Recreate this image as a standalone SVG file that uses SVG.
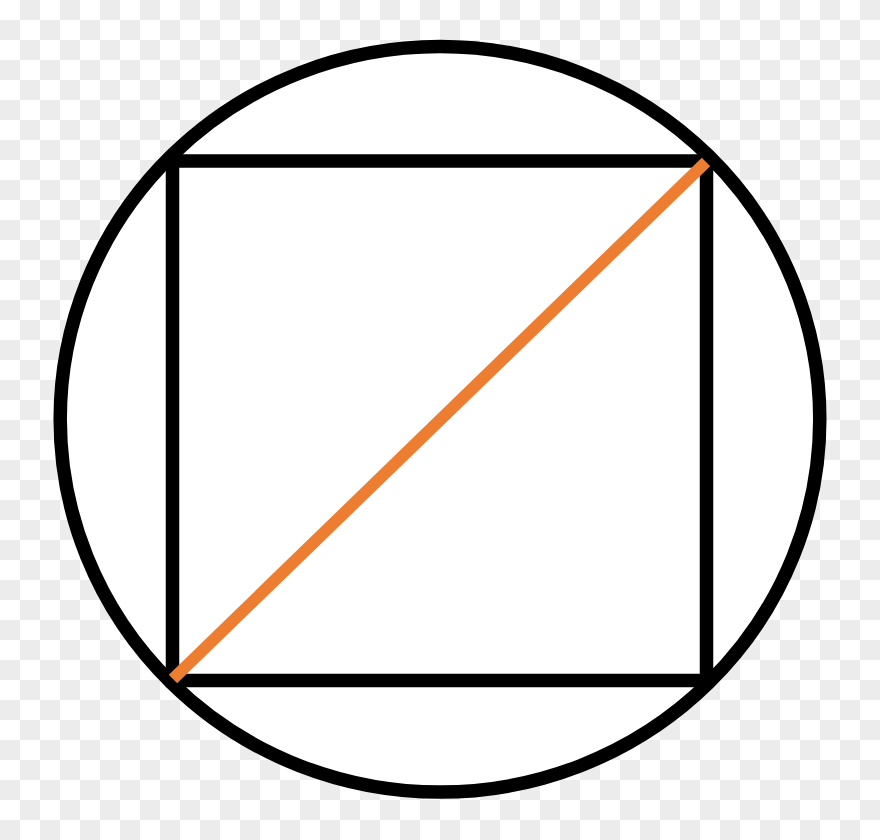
<svg xmlns="http://www.w3.org/2000/svg" width="880" height="840" viewBox="0 0 880 840">
  <defs>
    <pattern id="checker" x="0" y="0" width="40" height="40" patternUnits="userSpaceOnUse">
      <rect x="0" y="0" width="40" height="40" fill="#ffffff"/>
      <rect x="20" y="0" width="20" height="20" fill="#ececec"/>
      <rect x="0" y="20" width="20" height="20" fill="#ececec"/>
    </pattern>
    <style>
      .outline { fill: none; stroke: #000000; stroke-width: 13.5; }
      .diag { stroke: #ED7D31; stroke-width: 12; stroke-linecap: butt; }
    </style>
  </defs>
  <rect x="0" y="0" width="880" height="840" fill="url(#checker)"/>
  <g id="circle">
    <ellipse cx="440" cy="419.3" rx="379.8" ry="372.8" fill="#ffffff"/>
  </g>
  <g id="square">
    <rect class="outline" x="172.5" y="161" width="534" height="519.5"/>
  </g>
  <g id="circle-outline">
    <ellipse class="outline" cx="440" cy="419.3" rx="379.8" ry="372.8"/>
  </g>
  <g id="diagonal">
    <line class="diag" x1="173" y1="679" x2="706" y2="162"/>
  </g>
</svg>
